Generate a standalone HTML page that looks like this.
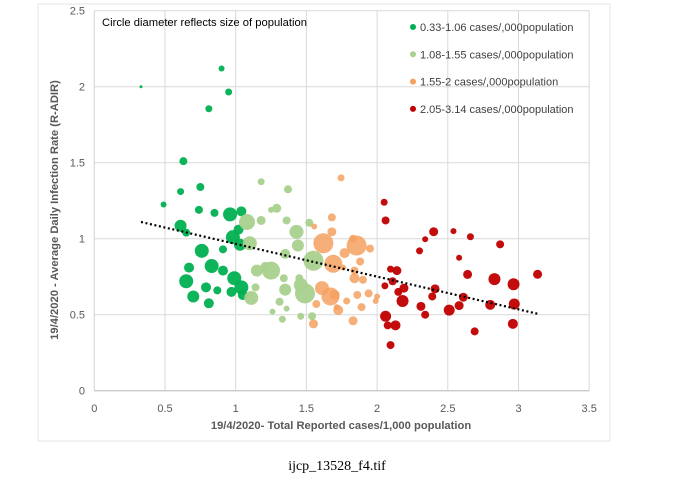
<!DOCTYPE html>
<html><head><meta charset="utf-8"><style>
body{margin:0;background:#fff;width:675px;height:495px;overflow:hidden}
svg text{font-family:"Liberation Sans",sans-serif}
</style></head><body>
<svg width="675" height="495">
<rect x="38" y="4" width="572" height="437" fill="#fff" stroke="#e4e4e4"/>
<g id="grid"></g>
<g id="axes"></g>
<g id="pts"></g>
<g id="trend"></g>
<text x="102" y="26" font-size="11.2" textLength="205" fill="#000">Circle diameter reflects size of population</text>
<g id="legend"></g>
<text transform="translate(58,210) rotate(-90)" text-anchor="middle" font-size="11.2" font-weight="bold" fill="#595959">19/4/2020 - Average Daily Infection Rate (R-ADIR)</text>
<text x="341" y="429" text-anchor="middle" font-size="11.2" font-weight="bold" fill="#595959">19/4/2020- Total Reported cases/1,000 population</text>
<text x="337" y="470" text-anchor="middle" font-size="14" fill="#000" style="font-family:'Liberation Serif',serif">ijcp_13528_f4.tif</text>
</svg>
<script>
const xTicks=[0,0.5,1,1.5,2,2.5,3,3.5];
const yTicks=[0,0.5,1,1.5,2,2.5];
const groupNames=["0.33-1.06 cases/,000population","1.08-1.55 cases/,000population","1.55-2 cases/,000population","2.05-3.14 cases/,000population"];
const groupColors=["#00b050","#a9d18e","#f4a160","#c00000"];
const gX0=[0.33,0.90,0.95,0.81,0.63,0.61,0.75,0.49,0.74,0.85,0.96,1.04,0.61,0.65,0.76,0.91,0.98,1.02,1.03,0.67,0.83,0.65,0.91,0.99,1.04,0.70,0.79,0.87,0.97,0.81,1.05];
const gY0=[2.0,2.12,1.965,1.855,1.51,1.31,1.34,1.225,1.19,1.17,1.16,1.18,1.085,1.04,0.92,0.93,1.01,1.06,0.96,0.81,0.82,0.72,0.79,0.74,0.68,0.62,0.68,0.66,0.65,0.575,0.63];
const gS0=[1.5,3,3.5,3.5,4,3.5,4,3,4,4,7,5,6,4,7,4,7,5,6,5,7,7,5,7,7,6,5,4,5,5,5];
const gX1=[1.18,1.37,1.29,1.25,1.36,1.18,1.08,1.52,1.43,1.10,1.44,1.35,1.55,1.25,1.15,1.21,1.34,1.45,1.35,1.49,1.46,1.14,1.11,1.31,1.26,1.33,1.36,1.46,1.54];
const gY1=[1.375,1.325,1.20,1.19,1.12,1.12,1.11,1.105,1.045,0.97,0.955,0.90,0.855,0.79,0.79,0.815,0.74,0.74,0.665,0.64,0.695,0.68,0.61,0.585,0.52,0.47,0.54,0.49,0.49];
const gS1=[3.5,4,4.5,3,4,4.5,8,4,7,7,6,5,10,9,6,5,4,4,6,10,7,4,7,4,3,3.5,3,3.5,4];
const gX2=[1.745,1.68,1.555,1.68,1.62,1.83,1.855,1.95,1.77,1.69,1.88,1.84,1.76,1.84,1.90,1.61,1.67,1.70,1.785,1.86,1.94,2.0,1.99,1.89,1.725,1.57,1.55,1.83,1.715];
const gY2=[1.40,1.14,1.08,1.045,0.97,1.0,0.955,0.935,0.905,0.835,0.85,0.79,0.81,0.74,0.73,0.675,0.62,0.63,0.59,0.63,0.64,0.62,0.59,0.55,0.53,0.57,0.44,0.46,0.55];
const gS2=[3.5,4,3,4.5,10,4,10,4,5,9,4,4,3,5,4,7,9,5,3.5,4,4,3,3,4,5,4,4.5,4.5,3];
const gX3=[2.05,2.06,2.40,2.54,2.66,2.34,2.87,2.30,2.58,2.095,2.14,2.64,3.135,2.83,2.965,2.11,2.055,2.19,2.15,2.41,2.39,2.18,2.61,2.58,2.31,2.51,2.34,2.80,2.97,2.06,2.075,2.13,2.96,2.69,2.095];
const gY3=[1.24,1.12,1.046,1.05,1.013,0.996,0.963,0.92,0.875,0.80,0.79,0.765,0.766,0.734,0.70,0.72,0.69,0.675,0.65,0.67,0.62,0.59,0.615,0.56,0.555,0.53,0.50,0.565,0.57,0.49,0.43,0.43,0.44,0.39,0.30];
const gS3=[3.5,4,4.5,3,3.5,3,4,3.5,3,3.5,4.5,4.5,4.5,6,6,4,3.5,4.5,4,4.5,4,6,4.5,4.5,4.5,5.5,4,5,5.5,5.5,4,5,5,4,4];
const trendX=[0.33,3.14];
const trendY=[1.11,0.505];
const NS="http://www.w3.org/2000/svg";
const X=v=>94.3+141.4*v, Y=v=>390.7-152*v;
function mk(t,a,p){const e=document.createElementNS(NS,t);for(const k in a)e.setAttribute(k,a[k]);p.appendChild(e);return e;}
const grid=document.getElementById('grid'),axes=document.getElementById('axes');
xTicks.forEach(t=>{
 const l=mk('line',{x1:X(t),x2:X(t),y1:Y(2.5),y2:Y(0),stroke:'#d9d9d9'},grid);
 
 
 const s=mk('text',{x:X(t),y:412,'text-anchor':'middle','font-size':11,fill:'#595959'},axes);s.textContent=t;
 
 
});
yTicks.forEach(t=>{
 const l=mk('line',{x1:X(0),x2:X(3.5),y1:Y(t),y2:Y(t),stroke:'#d9d9d9'},grid);
 
 
 const s=mk('text',{x:85,y:Y(t)+4,'text-anchor':'end','font-size':11,fill:'#595959'},axes);s.textContent=t;
 
 
});
mk('line',{x1:X(0),x2:X(3.5),y1:Y(0),y2:Y(0),stroke:'#bfbfbf'},axes);
mk('line',{x1:X(0),x2:X(0),y1:Y(0),y2:Y(2.5),stroke:'#d9d9d9'},axes);
const pts=document.getElementById('pts');
[[gX0,gY0,gS0],[gX1,gY1,gS1],[gX2,gY2,gS2],[gX3,gY3,gS3]].forEach((g,gi)=>{
 g[0].forEach((x,i)=>{
  const c=mk('circle',{cx:X(x),cy:Y(g[1][i]),r:g[2][i],fill:groupColors[gi],'fill-opacity':gi==2?0.85:0.95},pts);
  
  
 });
});
const tr=document.getElementById('trend');
const tl=mk('line',{x1:X(trendX[0]),y1:Y(trendY[0]),x2:X(trendX[1]),y2:Y(trendY[1]),stroke:'#000','stroke-width':2.2,'stroke-dasharray':'2 2.6'},tr);


const lg=document.getElementById('legend');
groupNames.forEach((n,i)=>{
 const y=27+27.3*i;
 const c=mk('circle',{cx:413,cy:y,r:3,fill:groupColors[i]},lg);
 
 
 const t=mk('text',{x:420,y:y+4,'font-size':11,fill:'#404040'},lg);t.textContent=n;
 
 
});
</script>
</body></html>
